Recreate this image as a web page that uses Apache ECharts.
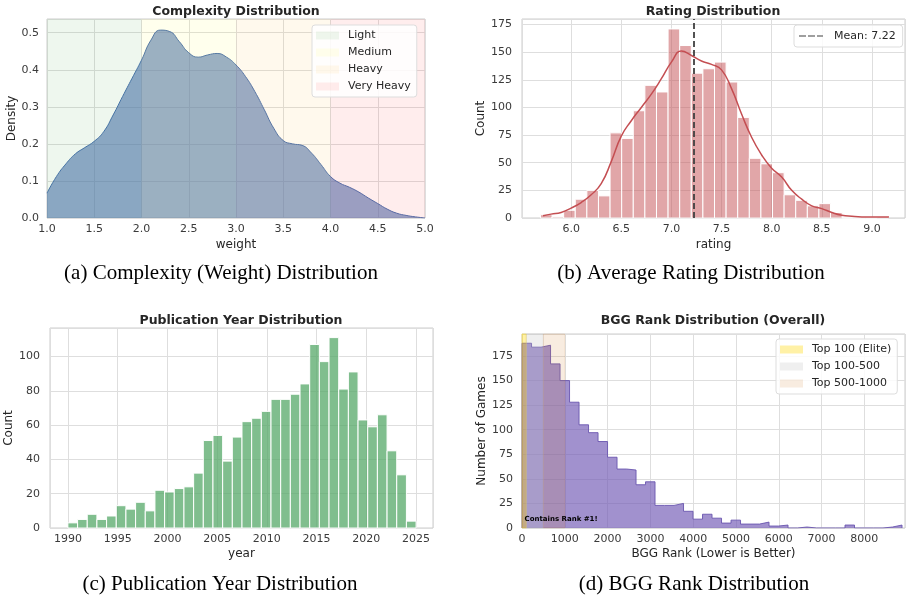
<!DOCTYPE html>
<html>
<head>
<meta charset="utf-8">
<script src="https://cdn.jsdelivr.net/npm/echarts@6/dist/echarts.min.js"></script>
<style>
  html, body { margin: 0; padding: 0; background: #ffffff; }
  #container { width: 912px; height: 602px; }
</style>
</head>
<body>
<div id="container"></div>
<script>
// (a) complexity KDE
var weightX = [1.0, 1.1, 1.2, 1.3, 1.4, 1.5, 1.6, 1.7, 1.8, 1.9, 2.0, 2.1, 2.2, 2.3, 2.4, 2.5, 2.6, 2.7, 2.8, 2.9,
    3.0, 3.1, 3.2, 3.3, 3.4, 3.5, 3.6, 3.7, 3.8, 3.9, 4.0, 4.1, 4.2, 4.3, 4.4, 4.5, 4.6, 4.7, 4.8, 4.9, 5.0];
var weightDensity = [0.067, 0.112, 0.146, 0.173, 0.19, 0.207, 0.233, 0.278, 0.328, 0.377, 0.426, 0.48, 0.507, 0.503, 0.476, 0.446, 0.434, 0.44, 0.444, 0.434,
    0.413, 0.382, 0.341, 0.292, 0.242, 0.209, 0.2, 0.196, 0.175, 0.144, 0.112, 0.094, 0.083, 0.07, 0.054, 0.039, 0.024, 0.013, 0.007, 0.003, 0.0];
var complexityBands = ['Light', 'Medium', 'Heavy', 'Very Heavy'];
var complexityEdges = [1, 2, 3, 4, 5];

// (b) average rating histogram + kde
var ratingRange = [5.694, 9.166];
var ratingCounts = [3, 1, 7, 17, 25, 20, 77, 72, 97, 120, 114, 171, 156, 131, 135, 141, 123, 91, 54, 49,
    41, 21, 16, 11, 13, 5, 0, 0, 0, 1];
var ratingKdeX = [5.72, 5.8, 5.9, 6.0, 6.1, 6.2, 6.3, 6.4, 6.5, 6.6, 6.7, 6.8, 6.9, 7.0, 7.1, 7.2, 7.3, 7.4, 7.5, 7.6,
    7.7, 7.8, 7.9, 8.0, 8.1, 8.2, 8.3, 8.4, 8.5, 8.6, 8.7, 8.8, 8.9, 9.0, 9.17];
var ratingKdeY = [2, 3.5, 5, 9, 14, 21, 31, 51, 74, 88, 100, 112, 126, 141, 151, 147, 142, 139, 134, 117,
    94, 73, 57, 45, 37, 25, 17, 11, 8.5, 5, 2.5, 1.5, 1, 1, 1];
var meanRating = 7.22;

// (c) publication year histogram
var yearRange = [1990, 2025];
var yearCounts = [3, 5, 8, 5, 7, 13, 11, 15, 10, 22, 21, 23, 24, 32, 51, 54, 39, 53, 62, 64,
    68, 75, 75, 78, 84, 107, 97, 111, 81, 91, 63, 59, 66, 45, 31, 4];

// (d) BGG rank histogram
var rankRange = [1, 8880];
var rankCounts = [188, 184, 186, 167, 150, 128, 105, 97, 88, 72, 60, 59, 44, 47, 23, 23, 25, 17, 9, 14,
    10, 5, 8, 4, 4, 6, 2, 3, 0, 1, 0, 0, 0, 0, 3, 0, 0, 0, 1, 3];
var rankBands = ['Top 100 (Elite)', 'Top 100-500', 'Top 500-1000'];
var rankEdges = [0, 100, 500, 1000];


var FONT = 'DejaVu Sans';
var TXT = '#262626';

function binData(range, counts) {
    var w = (range[1] - range[0]) / counts.length;
    return counts.map(function (c, i) {
        return [range[0] + i * w, range[0] + (i + 1) * w, c];
    });
}

function histBars(gi, data, fill) {
    return {
        type: 'custom',
        xAxisIndex: gi,
        yAxisIndex: gi,
        data: data,
        encode: { x: [0, 1], y: 2 },
        z: 2,
        silent: true,
        renderItem: function (params, api) {
            var p0 = api.coord([api.value(0), 0]);
            var p1 = api.coord([api.value(1), api.value(2)]);
            return {
                type: 'rect',
                shape: { x: p0[0], y: p1[1], width: p1[0] - p0[0], height: p0[1] - p1[1] },
                style: { fill: fill, stroke: '#ffffff', lineWidth: 1 }
            };
        }
    };
}

function axis(gi, o) {
    var a = {
        type: 'value',
        gridIndex: gi,
        axisLine: { show: false },
        axisTick: { show: false },
        splitLine: { lineStyle: { color: '#dedede', width: 1 } },
        nameLocation: 'middle',
        nameTextStyle: { fontFamily: FONT, fontSize: 12, color: TXT },
        axisLabel: { fontFamily: FONT, fontSize: 11, color: '#3a3a3a', margin: o.margin || 6,
            showMinLabel: o.showMin !== false, showMaxLabel: o.showMax !== false, formatter: o.fmt }
    };
    ['min', 'max', 'interval', 'minInterval', 'maxInterval', 'name', 'nameGap'].forEach(function (k) {
        if (o[k] !== undefined) a[k] = o[k];
    });
    return a;
}

function fix1(v) { return v.toFixed(1); }
function intv(v) { return String(Math.round(v)); }

var complexityColors = ['rgba(0,128,0,0.065)', 'rgba(255,255,0,0.07)', 'rgba(255,165,0,0.07)', 'rgba(255,0,0,0.07)'];
var rankColors = ['rgba(255,215,0,0.35)', 'rgba(192,192,192,0.25)', 'rgba(205,127,50,0.15)'];

var series = [];

// (a)
series.push({
    type: 'line', xAxisIndex: 0, yAxisIndex: 0, z: 2, silent: true,
    data: weightX.map(function (x, i) { return [x, weightDensity[i]]; }),
    smooth: 0.5, symbol: 'none',
    lineStyle: { color: '#4C72B0', width: 1 },
    areaStyle: { color: 'rgba(76,114,176,0.6)', opacity: 1, origin: 'start' }
});
complexityBands.forEach(function (name, i) {
    series.push({
        name: name, type: 'line', xAxisIndex: 0, yAxisIndex: 0, data: [], silent: true,
        itemStyle: { color: complexityColors[i] },
        markArea: { silent: true, z: 3, itemStyle: { color: complexityColors[i] },
            data: [[{ xAxis: complexityEdges[i] }, { xAxis: complexityEdges[i + 1] }]] }
    });
});

// (b)
series.push(histBars(1, binData(ratingRange, ratingCounts), 'rgba(196,78,82,0.5)'));
series.push({
    type: 'line', xAxisIndex: 1, yAxisIndex: 1, z: 3, silent: true,
    data: ratingKdeX.map(function (x, i) { return [x, ratingKdeY[i]]; }),
    smooth: 0.5, symbol: 'none',
    lineStyle: { color: '#C44E52', width: 1.5 }
});
series.push({
    name: 'Mean: 7.22', type: 'line', xAxisIndex: 1, yAxisIndex: 1, data: [], symbol: 'none',
    lineStyle: { color: '#404040', width: 1.8, type: [6, 3] },
    itemStyle: { color: '#404040' },
    markLine: { silent: true, symbol: 'none', z: 4, label: { show: false },
        lineStyle: { color: '#404040', width: 1.8, type: [6, 3] },
        data: [{ xAxis: meanRating }] }
});

// (c)
series.push(histBars(2, binData(yearRange, yearCounts), 'rgba(85,168,104,0.75)'));

// (d) step histogram
var rankStep = [];
var rb = binData(rankRange, rankCounts);
rankStep.push([rb[0][0], 0]);
rb.forEach(function (b) { rankStep.push([b[0], b[2]]); });
rankStep.push([rb[rb.length - 1][1], rb[rb.length - 1][2]]);
rankStep.push([rb[rb.length - 1][1], 0]);
series.push({
    type: 'line', xAxisIndex: 3, yAxisIndex: 3, z: 2, silent: true,
    data: rankStep, step: 'end', symbol: 'none',
    lineStyle: { color: 'rgba(105,85,175,0.9)', width: 1 },
    areaStyle: { color: 'rgba(117,93,183,0.68)', opacity: 1, origin: 'start' },
    markPoint: {
        silent: true, z: 6,
        data: [{ coord: [60, 8.5], symbol: 'rect', symbolSize: 0,
            label: { show: true, position: 'right', distance: 0, formatter: 'Contains Rank #1!',
                fontFamily: FONT, fontSize: 7, fontWeight: 'bold', color: '#000' } }]
    }
});
rankBands.forEach(function (name, i) {
    series.push({
        name: name, type: 'line', xAxisIndex: 3, yAxisIndex: 3, data: [], silent: true,
        itemStyle: { color: rankColors[i] },
        markArea: { silent: true, z: 3,
            itemStyle: { color: rankColors[i], borderColor: rankColors[i], borderWidth: 1 },
            data: [[{ xAxis: rankEdges[i] }, { xAxis: rankEdges[i + 1] }]] }
    });
});

function legendBox(left, top, names, extra) {
    var l = {
        orient: 'vertical', left: left, top: top,
        data: names,
        backgroundColor: 'rgba(255,255,255,0.85)',
        borderColor: '#dddddd', borderWidth: 1, borderRadius: 3,
        padding: [4, 6, 4, 4],
        itemGap: 4, itemWidth: 23, itemHeight: 8,
        selectedMode: false,
        icon: 'rect',
        textStyle: { fontFamily: FONT, fontSize: 11, color: TXT, lineHeight: 13, padding: [0, 0, 0, 4] }
    };
    for (var k in extra) l[k] = extra[k];
    return l;
}

var option = {
    animation: false,
    backgroundColor: '#ffffff',
    grid: [
        { left: 47, top: 19, width: 378, height: 199, show: true, borderColor: '#cccccc', borderWidth: 1 },
        { left: 522, top: 19, width: 383, height: 199, show: true, borderColor: '#cccccc', borderWidth: 1 },
        { left: 50, top: 328, width: 383, height: 200, show: true, borderColor: '#cccccc', borderWidth: 1 },
        { left: 522, top: 334, width: 383, height: 194, show: true, borderColor: '#cccccc', borderWidth: 1 }
    ],
    xAxis: [
        axis(0, { min: 1, max: 5, interval: 0.5, name: 'weight', nameGap: 21, fmt: fix1 }),
        axis(1, { min: 5.51, max: 9.33, minInterval: 0.5, maxInterval: 0.5, name: 'rating', nameGap: 21,
            fmt: fix1, showMin: false, showMax: false }),
        axis(2, { min: 1988.2, max: 2026.7, minInterval: 5, maxInterval: 5, name: 'year', nameGap: 20,
            fmt: intv, showMin: false, showMax: false }),
        axis(3, { min: 0, max: 8950, interval: 1000, name: 'BGG Rank (Lower is Better)', nameGap: 20,
            fmt: intv, showMax: false })
    ],
    yAxis: [
        axis(0, { min: 0, max: 0.537, interval: 0.1, name: 'Density', nameGap: 29, margin: 8, fmt: fix1, showMax: false }),
        axis(1, { min: 0, max: 180, interval: 25, name: 'Count', nameGap: 28, margin: 10, fmt: intv, showMax: false }),
        axis(2, { min: 0, max: 116.6, interval: 20, name: 'Count', nameGap: 32, margin: 10, fmt: intv, showMax: false }),
        axis(3, { min: 0, max: 197.4, interval: 25, name: 'Number of Games', nameGap: 33, margin: 9, fmt: intv, showMax: false })
    ],
    legend: [
        legendBox(312, 25, complexityBands.map(function (n, i) {
            return { name: n, itemStyle: { color: complexityColors[i] } };
        }), {}),
        legendBox(794, 25, [{ name: 'Mean: 7.22', icon: 'path://M0,0H7V1H0Z M9,0H16V1H9Z M18,0H24V1H18Z',
            itemStyle: { color: '#404040' } }], {
            itemWidth: 24, itemHeight: 2, padding: [4, 7, 4, 5],
            textStyle: { fontFamily: FONT, fontSize: 11, color: TXT, lineHeight: 14, padding: [0, 0, 0, 6] }
        }),
        legendBox(776, 339, rankBands.map(function (n, i) {
            return { name: n, itemStyle: { color: rankColors[i] } };
        }), {})
    ],
    graphic: [],
    series: series
};

var titles = [
    ['Complexity Distribution', 236, 12],
    ['Rating Distribution', 713, 12],
    ['Publication Year Distribution', 241, 321],
    ['BGG Rank Distribution (Overall)', 713, 321]
];
titles.forEach(function (t) {
    option.graphic.push({ type: 'text', x: t[1], y: t[2], silent: true,
        style: { text: t[0], font: 'bold 12.5px "DejaVu Sans"', fill: TXT, textAlign: 'center', textVerticalAlign: 'middle' } });
});
var captions = [
    ['(a) Complexity (Weight) Distribution', 221, 273],
    ['(b) Average Rating Distribution', 691, 273],
    ['(c) Publication Year Distribution', 220, 584],
    ['(d) BGG Rank Distribution', 694, 584]
];
captions.forEach(function (t) {
    option.graphic.push({ type: 'text', x: t[1], y: t[2], silent: true,
        style: { text: t[0], font: '21px "Liberation Serif"', fill: '#000', textAlign: 'center', textVerticalAlign: 'middle' } });
});

var myChart = echarts.init(document.getElementById('container'));
myChart.setOption(option);
</script>
</body>
</html>
